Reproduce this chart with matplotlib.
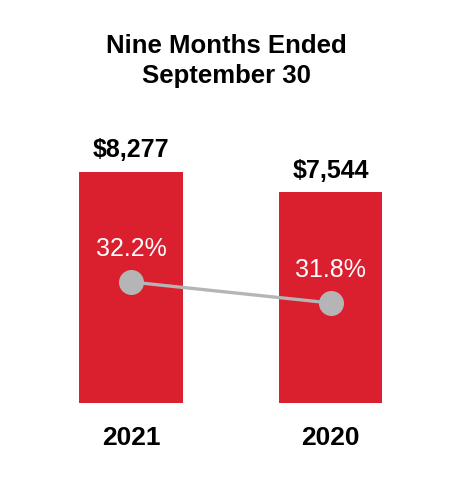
import matplotlib.pyplot as plt

plt.rcParams['font.family'] = ['Liberation Sans', 'DejaVu Sans']

years = ['2021', '2020']
revenue = [8277, 7544]
revenue_labels = ['$8,277', '$7,544']
margin = [32.2, 31.8]
margin_labels = ['32.2%', '31.8%']

red = '#DA1F2F'
grey = '#B5B5B5'

fig = plt.figure(figsize=(4.6, 4.8), dpi=100)
ax = fig.add_axes([0, 77 / 480, 1, 303 / 480])
x = [0, 1]

ax.bar(x, revenue, width=0.52, color=red)
ax.set_xlim(-0.657, 1.649)
ax.set_ylim(0, 10857)
ax.axis('off')

for xi, v, lab in zip(x, revenue, revenue_labels):
    ax.annotate(lab, (xi, v), xytext=(0, 7), textcoords='offset points',
                ha='center', va='bottom', fontsize=18, fontweight='bold')
    
for xi, yr in zip(x, years):
    ax.annotate(yr, (xi, 0), xytext=(0, -25), textcoords='offset points',
                ha='center', va='center', fontsize=19, fontweight='bold')

# margin line on second axis
ax2 = ax.twinx()
ax2.plot(x, margin, color=grey, linewidth=2.4, marker='o', markersize=17)
ax2.set_ylim(29.895, 35.666)
ax2.axis('off')
for xi, m, lab in zip(x, margin, margin_labels):
    ax2.annotate(lab, (xi, m), xytext=(0, 23.5), textcoords='offset points',
                 ha='center', va='center', fontsize=18, color='white')

fig.text(0.493, 1 - 61 / 480, 'Nine Months Ended\nSeptember 30', ha='center',
         va='center', fontsize=18.5, fontweight='bold', linespacing=1.32)

fig.savefig('out.png', dpi=100)
